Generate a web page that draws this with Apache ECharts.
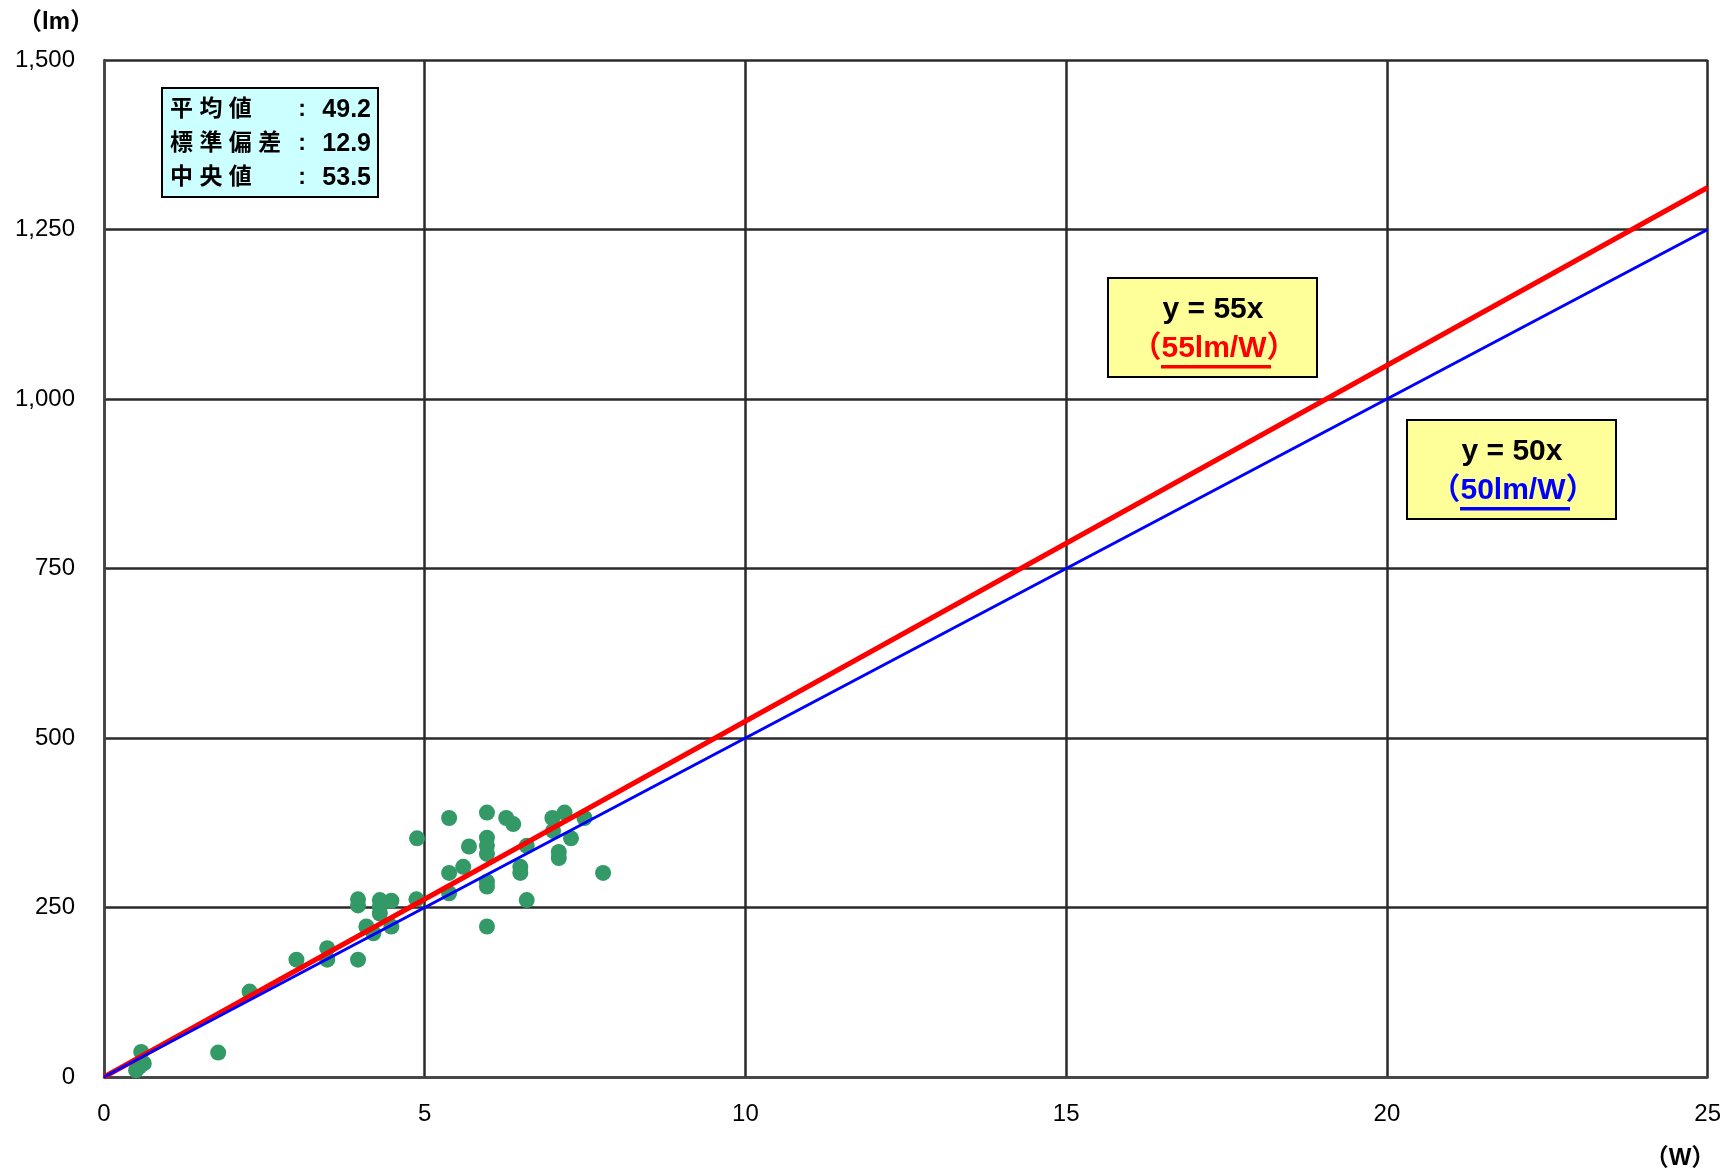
<!DOCTYPE html>
<html>
<head>
<meta charset="utf-8">
<script src="https://cdn.jsdelivr.net/npm/echarts@6/dist/echarts.min.js"></script>
<style>
html,body{margin:0;padding:0;background:#fff;}
#chart{width:1724px;height:1173px;}
</style>
</head>
<body>
<div id="chart"></div>
<script>
// ---- data ----
var xTicks = [0, 5, 10, 15, 20, 25];
var yTickLabels = ['0', '250', '500', '750', '1,000', '1,250', '1,500'];
var wattage = [0.50, 0.58, 0.62, 0.55, 1.78, 2.27, 3.00, 3.48, 3.48, 3.96, 3.96, 3.96, 4.09, 4.20, 4.30, 4.30, 4.30, 4.48, 4.48,
  4.87, 4.88, 5.38, 5.38, 5.38, 5.60, 5.69, 5.97, 5.97, 5.97, 5.97, 5.97, 5.97, 5.97,
  6.27, 6.38, 6.49, 6.49, 6.59, 6.59, 6.99, 7.00, 7.09, 7.09, 7.18, 7.28, 7.49, 7.78];
var lumens = [10, 37, 20, 15, 36, 126, 173, 190, 173, 173, 262, 253, 222, 212, 261, 251, 241, 260, 222,
  262, 352, 382, 301, 271, 310, 340, 390, 353, 341, 329, 288, 281, 222,
  382, 373, 310, 301, 341, 261, 382, 363, 332, 323, 390, 352, 382, 301];
var line55 = [[0, 0], [25, 1312]];
var line50 = [[0, 0], [25, 1250]];
var statLabels = ['平 均 値', '標 準 偏 差', '中 央 値'];
var statValues = ['49.2', '12.9', '53.5'];

var FONT = 'Arial, "Liberation Sans", "Noto Sans CJK JP", sans-serif';
var points = wattage.map(function (w, i) { return [w, lumens[i]]; });

var chart = echarts.init(document.getElementById('chart'), null, { renderer: 'canvas' });

var graphics = [
  { type: 'text', x: 56, y: 22, style: { text: '（lm）', font: 'bold 24px ' + FONT, fill: '#000', textAlign: 'center', textVerticalAlign: 'middle' } },
  { type: 'text', x: 1680, y: 1158, style: { text: '（W）', font: 'bold 24px ' + FONT, fill: '#000', textAlign: 'center', textVerticalAlign: 'middle' } },
  { type: 'rect', shape: { x: 162, y: 88, width: 216, height: 109 }, style: { fill: '#ccffff', stroke: '#000', lineWidth: 2 }, z: 10 }
];
statLabels.forEach(function (lab, i) {
  var cy = 110 + i * 34;
  graphics.push({ type: 'text', x: 170, y: cy, z: 11, style: { text: lab, font: 'bold 23px ' + FONT, fill: '#000', textVerticalAlign: 'middle', textAlign: 'left' } });
  graphics.push({ type: 'text', x: 302, y: cy, z: 11, style: { text: ':', font: 'bold 23px ' + FONT, fill: '#000', textVerticalAlign: 'middle', textAlign: 'center' } });
  graphics.push({ type: 'text', x: 371, y: cy, z: 11, style: { text: statValues[i], font: 'bold 25px ' + FONT, fill: '#000', textVerticalAlign: 'middle', textAlign: 'right' } });
});
function eqBox(x, y, title, sub, color) {
  graphics.push({ type: 'rect', shape: { x: x, y: y, width: 209, height: 99 }, style: { fill: '#ffff99', stroke: '#000', lineWidth: 2 }, z: 10 });
  graphics.push({ type: 'text', x: x + 105, y: y + 32, z: 11, style: { text: title, font: 'bold 30px ' + FONT, fill: '#000', textAlign: 'center', textVerticalAlign: 'middle' } });
  graphics.push({ type: 'text', x: x + 106, y: y + 71, z: 11, style: { text: sub, font: 'bold 30px ' + FONT, fill: color, textAlign: 'center', textVerticalAlign: 'middle' } });
  graphics.push({ type: 'rect', shape: { x: x + 53, y: y + 87, width: 110, height: 3.5 }, style: { fill: color }, z: 11 });
}
eqBox(1108, 278, 'y = 55x', '（55lm/W）', '#ff0000');
eqBox(1407, 420, 'y = 50x', '（50lm/W）', '#0000ff');

chart.setOption({
  animation: false,
  backgroundColor: '#fff',
  grid: { left: 104, right: 15, top: 60, bottom: 96, show: false },
  xAxis: {
    type: 'value', min: 0, max: 25, interval: 5,
    axisLine: { show: true, onZero: false, lineStyle: { color: '#444', width: 2.5 } },
    axisTick: { show: false },
    axisLabel: { margin: 25, fontSize: 24, color: '#000', fontFamily: FONT,
      formatter: function (v) { return xTicks.indexOf(v) >= 0 ? String(v) : ''; } },
    splitLine: { show: true, lineStyle: { color: '#2a2a2a', width: 2.5 } }
  },
  yAxis: {
    type: 'value', min: 0, max: 1500, interval: 250,
    axisLine: { show: true, onZero: false, lineStyle: { color: '#444', width: 2.5 } },
    axisTick: { show: false },
    axisLabel: { margin: 29, fontSize: 24, color: '#000', fontFamily: FONT,
      formatter: function (v) { return yTickLabels[Math.round(v / 250)]; } },
    splitLine: { show: true, lineStyle: { color: '#2a2a2a', width: 2.5 } }
  },
  series: [
    { type: 'scatter', data: points, symbol: 'circle', symbolSize: 16, itemStyle: { color: '#339966', opacity: 1 }, z: 2 },
    { type: 'line', data: line55, symbol: 'none', lineStyle: { color: '#ff0000', width: 5 }, z: 3 },
    { type: 'line', data: line50, symbol: 'none', lineStyle: { color: '#0000ff', width: 3 }, z: 4 }
  ],
  graphic: graphics
});
</script>
</body>
</html>
